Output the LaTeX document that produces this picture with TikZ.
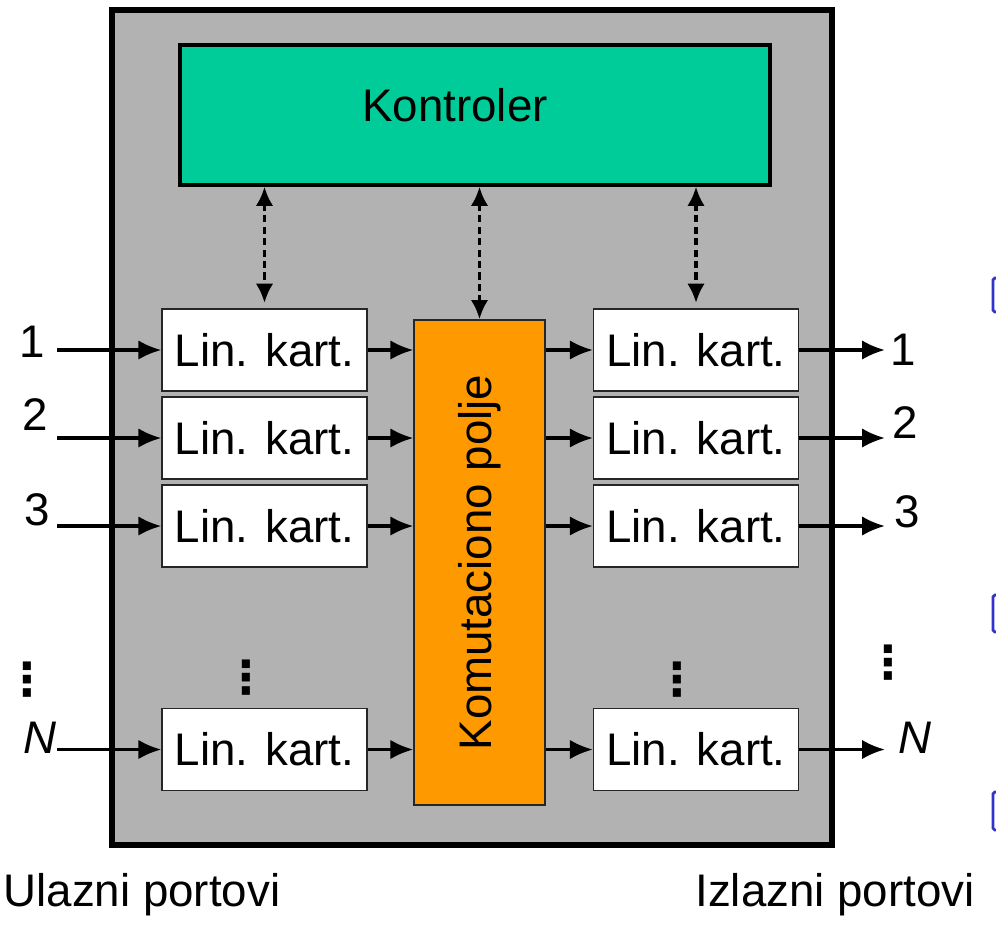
\documentclass[tikz,border=0pt]{standalone}
\usepackage{fontspec}
\setmainfont{Liberation Sans}
\newfontfamily\dotsfont{DejaVu Sans Bold}
\usetikzlibrary{arrows.meta}
\definecolor{panelgray}{HTML}{B2B2B2}
\definecolor{ctrlgreen}{HTML}{00CC99}
\definecolor{fieldorange}{HTML}{FF9900}
\definecolor{bulletblue}{HTML}{3333CC}
\tikzset{
    card/.style={draw=black!85, line width=0.8pt, fill=white, inner sep=0pt,
        minimum width=4.1cm, minimum height=1.64cm},
    flow/.style={line width=1.8pt, -{Latex[length=13pt,width=11pt]}},
    ctrl/.style={line width=2.2pt, dash pattern=on 4pt off 2.5pt,
        {Latex[length=11pt,width=10pt]}-{Latex[length=11pt,width=10pt]}},
    vdot/.style={font=\dotsfont\fontsize{26}{30}\selectfont, inner sep=0pt},
    bullet/.style={draw=bulletblue, line width=1.6pt, rounded corners=1pt},
}
\begin{document}
\begin{tikzpicture}[x=0.02cm, y=-0.02cm, font=\fontsize{26}{30}\selectfont]
\useasboundingbox (0, 0) rectangle (996, 933);
\clip (0, 0) rectangle (996, 933);

\draw[fill=panelgray, line width=3pt] (112, 10) rectangle (832, 845);

\node[draw, line width=1.8pt, fill=ctrlgreen, minimum width=11.8cm,
    minimum height=2.8cm] (kontroler) at (475, 115) {};
\node (ktext) at (455, 105) {Kontroler};

\node[draw=black!85, line width=0.8pt, fill=fieldorange, minimum width=2.62cm,
    minimum height=9.7cm, inner sep=0pt] (polje) at (479.5, 562.5) {};
\node[rotate=90] (ptext) at (polje.center) {Komutaciono polje};

\foreach \i/\y in {1/350, 2/438, 3/526, N/749.5} {
    \node[card] (lin\i) at (264.5, \y) {Lin. kart.};
    \node[card] (lout\i) at (696, \y) {Lin. kart.};
    \coordinate (pin\i) at (57, \y);
    \coordinate (pout\i) at (885, \y);
    \draw[flow] (pin\i) -- (lin\i.west);
    \draw[flow] (lin\i.east) -- (lin\i.east -| polje.west);
    \draw[flow] (lout\i.west -| polje.east) -- (lout\i.west);
    \draw[flow] (lout\i.east) -- (pout\i);
}

\node (nin1) at (32, 342) {1};
\node (nin2) at (35, 415) {2};
\node (nin3) at (37, 510) {3};
\node (ninN) at (40, 738) {\textit{N}};
\node (nout1) at (903, 350) {1};
\node (nout2) at (905, 423) {2};
\node (nout3) at (907, 512) {3};
\node (noutN) at (915, 738) {\textit{N}};

\node[vdot] (vd1) at (27, 680) {⋮};
\node[vdot] (vd2) at (246, 678) {⋮};
\node[vdot] (vd3) at (677, 680) {⋮};
\node[vdot] (vd4) at (888, 663) {⋮};

\draw[ctrl, shorten >=3pt] (lin1.north |- kontroler.south) -- (lin1.north);
\draw[ctrl] (polje.north |- kontroler.south) -- (polje.north);
\draw[ctrl, shorten >=3pt] (lout1.north |- kontroler.south) -- (lout1.north);

\node (ulaz) at (142, 895) {Ulazni portovi};
\node (izlaz) at (835, 895) {Izlazni portovi};

% slide bullets cut off at the right edge
\draw[bullet] (993, 278) rectangle (1012, 312);
\draw[bullet] (993, 595) rectangle (1012, 632);
\draw[bullet] (993, 792) rectangle (1012, 830);
\end{tikzpicture}
\end{document}
